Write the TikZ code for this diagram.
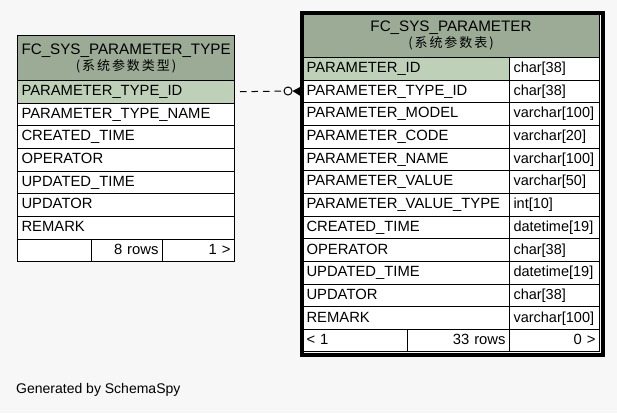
\documentclass[tikz,border=0pt]{standalone}
\usepackage{fontspec}
\setmainfont{Liberation Sans}
\newfontfamily\cjk[LetterSpace=15]{Noto Sans CJK SC}
\usetikzlibrary{calc}

\definecolor{pagebg}{HTML}{F7F7F7}
\definecolor{headbg}{HTML}{9BAB96}
\definecolor{keybg}{HTML}{BED1B8}

\newcommand\tblfont{\fontsize{14.8}{17}\selectfont}
\newcommand\headfont{\fontsize{15.2}{17}\selectfont}
\newcommand\cjkfont{\cjk\fontsize{13}{15}\selectfont}

\tikzset{
  cell/.style={draw=black, line width=1pt, fill=white, anchor=north west,
    inner xsep=4pt, inner ysep=0pt, minimum height=22.67pt, font=\tblfont,
    text height=10.8pt, text depth=3.2pt},
  namecell/.style={cell, text width=199pt, align=left},
  typecell/.style={cell, text width=82pt, align=left},
  headcell/.style={draw=black, line width=1pt, fill=headbg, anchor=north west,
    inner xsep=4pt, inner ysep=0pt, align=center, font=\headfont},
  keycell/.style={fill=keybg},
  frame/.style={draw=black, line width=4pt, anchor=north west, inner sep=0pt},
  fkline/.style={draw=black, line width=1pt, dash pattern=on 6.5pt off 5pt, dash phase=6.5pt},
}

\begin{document}
\begin{tikzpicture}[x=1pt, y=-1pt]
  \fill[pagebg] (0,0) rectangle (617,413);
  \useasboundingbox (0,0) rectangle (617,413);

  % ---- FC_SYS_PARAMETER_TYPE ----
  \node[headcell, text width=209pt, minimum height=45pt] (lhead) at (17,35)
    {FC\_SYS\_PARAMETER\_TYPE\\[-1pt]{\cjkfont(系统参数类型)}};
  \foreach \i/\t in {1/PARAMETER\_TYPE\_ID, 2/PARAMETER\_TYPE\_NAME, 3/CREATED\_TIME,
                     4/OPERATOR, 5/UPDATED\_TIME, 6/UPDATOR, 7/REMARK} {
    \node[cell, text width=209pt, align=left] (l\i) at (17, {80+(\i-1)*22.67}) {\t};
  }
  \node[cell, keycell, text width=209pt, align=left] (l1) at (17,80) {PARAMETER\_TYPE\_ID};
  \node[cell, text width=66pt, align=right]  (lf1) at (17,238.7)  {};
  \node[cell, text width=63pt, align=right]  (lf2) at (91,238.7)  {8 rows};
  \node[cell, text width=64pt, align=right]  (lf3) at (162,238.7) {1 >};

  % ---- FC_SYS_PARAMETER ----
  \node[headcell, text width=289pt, minimum height=44pt] (rhead) at (302,13)
    {FC\_SYS\_PARAMETER\\[-1pt]{\cjkfont(系统参数表)}};
  \foreach \i/\n/\t in {
      1/PARAMETER\_ID/char[38],
      2/PARAMETER\_TYPE\_ID/char[38],
      3/PARAMETER\_MODEL/varchar[100],
      4/PARAMETER\_CODE/varchar[20],
      5/PARAMETER\_NAME/varchar[100],
      6/PARAMETER\_VALUE/varchar[50],
      7/PARAMETER\_VALUE\_TYPE/int[10],
      8/CREATED\_TIME/datetime[19],
      9/OPERATOR/char[38],
      10/UPDATED\_TIME/datetime[19],
      11/UPDATOR/char[38],
      12/REMARK/varchar[100]} {
    \node[namecell] (r\i) at (302, {57+(\i-1)*22.67}) {\n};
    \node[typecell, font=\fontsize{14.5}{17}\selectfont] (t\i) at (509, {57+(\i-1)*22.67}) {\t};
  }
  \node[namecell, keycell] (r1) at (302,57) {PARAMETER\_ID};
  \node[cell, text width=97pt, align=left, minimum height=22pt]  (rf1) at (302,329) {< 1};
  \node[cell, text width=94pt, align=right, minimum height=22pt] (rf2) at (407,329) {33 rows};
  \node[cell, text width=82pt, align=right, minimum height=22pt] (rf3) at (509,329) {0 >};
  \node[frame, minimum width=301pt, minimum height=341.5pt] (rframe) at (300,11) {};

  % ---- foreign key: PARAMETER_TYPE_ID -> FC_SYS_PARAMETER_TYPE ----
  \node[circle, draw=black, line width=1pt, fill=white, minimum size=8pt, inner sep=0pt]
    (fk) at (288,91) {};
  \draw[fkline] (l1.east) -- (fk.west);
  \fill[black] (fk.east) -- ($(r2.west)+(0,-5.5)$) -- ($(r2.west)+(0,5.5)$) -- cycle;

  \node[anchor=west, inner sep=0pt, font=\fontsize{14}{16}\selectfont] (credit) at (16,390)
    {Generated by SchemaSpy};
\end{tikzpicture}
\end{document}
